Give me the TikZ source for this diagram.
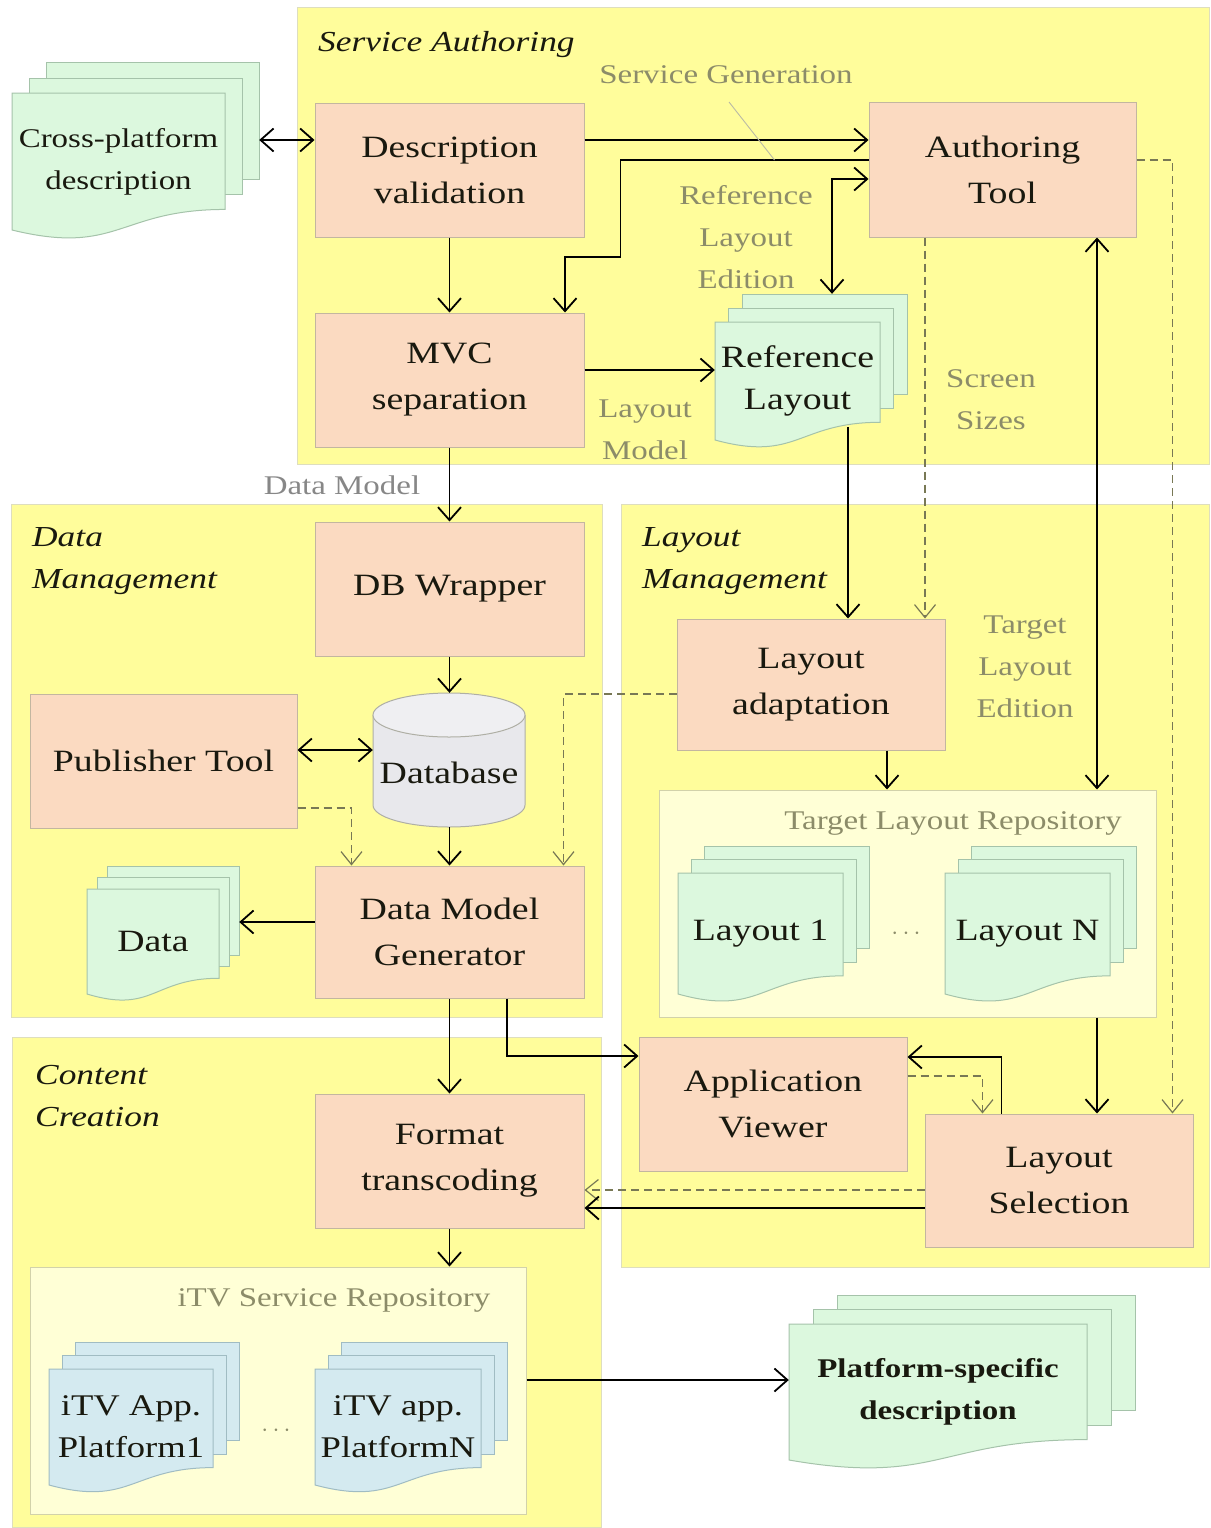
\documentclass[tikz,border=0pt]{standalone}
\usepackage{fontspec}
\setmainfont{Liberation Serif}[FakeStretch=1.22]
\usetikzlibrary{arrows.meta,calc,fit}

\definecolor{regionfill}{RGB}{255,253,155}
\definecolor{regionline}{RGB}{222,222,190}
\definecolor{boxfill}{RGB}{251,218,193}
\definecolor{boxline}{RGB}{195,182,160}
\definecolor{docfill}{RGB}{220,248,222}
\definecolor{docline}{RGB}{165,195,170}
\definecolor{appfill}{RGB}{212,234,240}
\definecolor{appline}{RGB}{160,188,195}
\definecolor{repofill}{RGB}{255,255,214}
\definecolor{repoline}{RGB}{210,210,170}
\definecolor{labelgray}{RGB}{140,140,105}
\definecolor{modelgray}{RGB}{135,135,135}
\definecolor{dashgray}{RGB}{120,120,85}
\definecolor{dbfill}{RGB}{232,232,236}
\definecolor{dbline}{RGB}{175,175,165}
\definecolor{textdark}{RGB}{25,25,15}

% stack of three pages with a wavy lower edge on the front page
% #1 name, #2 left, #3 top, #4 width, #5 height, #6 dx, #7 dy, #8 page style, #9 text
\newcommand{\docstack}[9]{%
  \foreach \k in {2,1}{%
    \filldraw[#8] ({#2+\k*#6},{#3-\k*#7}) rectangle ({#2+#4+\k*#6},{#3-\k*#7+0.85*#5});
  }
  \filldraw[#8] (#2,#3) -- ({#2+#4},#3) -- ({#2+#4},{#3+0.85*#5})
     .. controls ({#2+0.5*#4},{#3+0.85*#5}) and ({#2+0.5*#4},{#3+1.19*#5}) .. (#2,{#3+#5}) -- cycle;
  \node[fit={(#2,{#3-2*#7}) ({#2+#4+2*#6},{#3+#5})}, inner sep=0pt] (#1) {};
  \node[doctext] (#1-t) at ({#2+0.5*#4},{#3+0.5*#5}) {#9};
}

\tikzset{
  region/.style={fill=regionfill, draw=regionline, line width=1pt, inner sep=0pt},
  repo/.style={fill=repofill, draw=repoline, line width=1pt, inner sep=0pt},
  proc/.style={fill=boxfill, draw=boxline, line width=1pt, inner sep=0pt, align=center,
    minimum width=269pt, minimum height=134pt, text=textdark,
    font=\fontsize{31}{46}\selectfont},
  greendoc/.style={fill=docfill, draw=docline, line width=1pt},
  bluedoc/.style={fill=appfill, draw=appline, line width=1pt},
  doctext/.style={align=center, inner sep=0pt, text=textdark, font=\fontsize{31}{42}\selectfont},
  grouptitle/.style={align=left, anchor=west, inner sep=0pt, text=textdark,
    font=\fontsize{29}{42}\selectfont\itshape},
  note/.style={align=center, inner sep=0pt, text=labelgray, font=\fontsize{27}{42}\selectfont},
  arr/.style={line width=1.8pt, -{Straight Barb[length=13pt,width=23pt]}},
  arrboth/.style={line width=1.8pt,
    {Straight Barb[length=13pt,width=23pt]}-{Straight Barb[length=13pt,width=23pt]}},
  darr/.style={draw=dashgray, line width=1.2pt, dash pattern=on 8pt off 5pt,
    -{Straight Barb[length=13pt,width=21pt]}},
  leader/.style={draw=labelgray!60, line width=0.9pt},
}

\begin{document}
\begin{tikzpicture}[x=1pt,y=-1pt]
\useasboundingbox (0,0) rectangle (1210,1528);
\fill[white] (0,0) rectangle (1210,1528);

% functional areas
\node[region, fit={(297,8) (1209,464)}] (sa) {};
\node[region, fit={(11,504) (602,1017)}] (dm) {};
\node[region, fit={(621,504) (1209,1267)}] (lm) {};
\node[region, fit={(12,1037) (601,1527)}] (cc) {};

\node[grouptitle] (sa-t) at (318,45) {Service Authoring};
\node[grouptitle] (dm-t) at (32,561) {Data\\Management};
\node[grouptitle] (lm-t) at (642,561) {Layout\\Management};
\node[grouptitle] (cc-t) at (35,1096) {Content\\Creation};

% repositories
\node[repo, fit={(659,790) (1156,1017)}] (tlr) {};
\node[repo, fit={(30,1267) (526,1514)}] (itvr) {};
\node[note] (tlr-t) at (953,823) {Target Layout Repository};
\node[note] (itvr-t) at (334,1300) {iTV Service Repository};

% documents
\docstack{cpd}{12}{93}{213}{137}{17}{15}{greendoc}{\fontsize{27}{42}\selectfont Cross-platform\\\fontsize{27}{42}\selectfont description}
\docstack{refl}{715}{322}{165}{118}{13.5}{14}{greendoc}{Reference\\Layout}
\docstack{data}{87}{889}{132}{105}{10}{11.5}{greendoc}{Data}
\docstack{lay1}{678}{873}{165}{121}{13}{13.5}{greendoc}{Layout 1}
\docstack{layn}{945}{873}{165}{121}{13}{13.5}{greendoc}{Layout N}
\docstack{app1}{49}{1369}{164}{116}{13}{13.5}{bluedoc}{\fontsize{30}{42}\selectfont iTV App.\\\fontsize{30}{42}\selectfont Platform1}
\docstack{appn}{315}{1369}{166}{116}{13}{13.5}{bluedoc}{\fontsize{30}{42}\selectfont iTV app.\\\fontsize{30}{42}\selectfont PlatformN}
\docstack{psd}{789}{1324}{298}{136}{24}{14.5}{greendoc}{\fontsize{27}{40}\selectfont\bfseries Platform-specific\\\fontsize{27}{40}\selectfont\bfseries description}

\node[inner sep=0pt, text=labelgray, font=\fontsize{27}{30}\selectfont] (dots1) at (906,934) {$\cdots$};
\node[inner sep=0pt, text=labelgray, font=\fontsize{27}{30}\selectfont] (dots2) at (276,1431) {$\cdots$};

% processing steps
\node[proc] (dv)  at (449.5,170)   {Description\\validation};
\node[proc, minimum width=267pt, minimum height=135pt] (at) at (1002.5,169.5) {Authoring\\Tool};
\node[proc] (mvc) at (449.5,380)   {MVC\\separation};
\node[proc] (dbw) at (449.5,589)   {DB Wrapper};
\node[proc, minimum width=267pt] (pub) at (163.5,761) {Publisher Tool};
\node[proc, minimum height=132pt] (dmg) at (449.5,932) {Data Model\\Generator};
\node[proc, minimum width=268pt, minimum height=131pt] (la) at (811,684.5) {Layout\\adaptation};
\node[proc, minimum width=268pt] (av) at (773,1104) {Application\\Viewer};
\node[proc, minimum width=268pt, minimum height=133pt] (ls) at (1059,1180.5) {Layout\\Selection};
\node[proc] (ft)  at (449.5,1161)  {Format\\transcoding};

% database cylinder
\fill[dbfill] (373,715) -- (373,805) arc[start angle=180, end angle=0, x radius=76, y radius=22]
  -- (525,715) arc[start angle=0, end angle=-180, x radius=76, y radius=22] -- cycle;
\draw[dbline, line width=1pt] (373,715) -- (373,805) arc[start angle=180, end angle=0, x radius=76, y radius=22] -- (525,715);
\draw[dbline, line width=1pt, fill=dbfill!70!white] (449,715) ellipse [x radius=76, y radius=22];
\node[fit={(373,693) (525,827)}, inner sep=0pt] (db) {};
\node[doctext] (db-t) at (449,773) {Database};

% flow labels
\node[note] (sg) at (726,75) {Service Generation};
\node[note] (rle) at (746,237) {Reference\\Layout\\Edition};
\node[note] (lmod) at (645,430) {Layout\\Model};
\node[note] (ss) at (991,400) {Screen\\Sizes};
\node[note, text=modelgray] (dmod) at (342,485) {Data Model};
\node[note] (tle) at (1025,667) {Target\\Layout\\Edition};

% connectors
\coordinate (c1) at ($(dv.west)+(0,-30)$);
\draw[arrboth] (c1 -| cpd.east) -- (c1);
\draw[arr] (c1 -| dv.east) -- (c1 -| at.west);

\coordinate (c3) at ($(at.west)+(0,-9.5)$);
\draw[arr] (c3) -| ++(-248,97) -| ($(mvc.north)+(115.5,0)$);
\draw[leader] ($(sg.center)+(3,27)$) -- ($(c3)+(-94,0)$);

\coordinate (c4) at ($(at.west)+(0,9.5)$);
\draw[arrboth] ($(refl.north)+(21,0)$) |- (c4);

\draw[arr] (dv.south) -- (mvc.north);

\coordinate (c6) at ($(mvc.east)+(0,-10)$);
\draw[arr] (c6) -- (c6 -| refl.west);

\draw[arr] (mvc.south) -- (dbw.north);
\draw[arr] (dbw.south) -- (dbw.south |- db.north);

\coordinate (c9) at ($(pub.east)+(0,-11)$);
\draw[arrboth] (c9) -- (c9 -| db.west);
\draw[arr] (dbw.south |- db.south) -- (dmg.north);

\coordinate (c11) at ($(pub.east)+(0,47)$);
\draw[darr] (c11) -| ($(dmg.north west)+(37,0)$);
\coordinate (c12) at ($(la.west)+(0,9.5)$);
\draw[darr] (c12) -| ($(dmg.north east)+(-21,0)$);

\coordinate (c13) at ($(dmg.west)+(0,-10)$);
\draw[arr] (c13) -- (c13 -| data.east);

\draw[arr] (dmg.south) -- (ft.north);
\draw[arr] ($(dmg.south)+(57.5,0)$) |- ($(av.west)+(0,-48)$);

\draw[arr] ($(refl.north)+(37,133)$) -- ($(la.north)+(37,0)$);
\draw[darr] ($(at.south)+(-77.5,0)$) -- ($(la.north)+(114,0)$);

\coordinate (c18) at ($(at.south)+(94.5,0)$);
\draw[arrboth] (c18) -- (c18 |- tlr.north);

\coordinate (c19) at ($(at.east)+(0,-9.5)$);
\draw[darr] (c19) -| ($(ls.north east)+(-21,0)$);

\coordinate (c20) at ($(la.south)+(76,0)$);
\draw[arr] (c20) -- (c20 |- tlr.north);
\draw[arr] (c18 |- tlr.south) -- (c18 |- ls.north);

\coordinate (c22) at ($(ls.north west)+(77,0)$);
\draw[arr] (c22) |- ($(av.east)+(0,-47)$);
\draw[darr] ($(av.east)+(0,-28)$) -| ($(ls.north west)+(58,0)$);

\coordinate (c24) at ($(ls.west)+(0,9.5)$);
\draw[darr] (c24) -- (c24 -| ft.east);
\coordinate (c25) at ($(ls.west)+(0,27.5)$);
\draw[arr] (c25) -- (c25 -| ft.east);

\draw[arr] (ft.south) -- (ft.south |- itvr.north);
\coordinate (c27) at ($(itvr.east)+(0,-10.5)$);
\draw[arr] (c27) -- (c27 -| psd.west);
\end{tikzpicture}
\end{document}
